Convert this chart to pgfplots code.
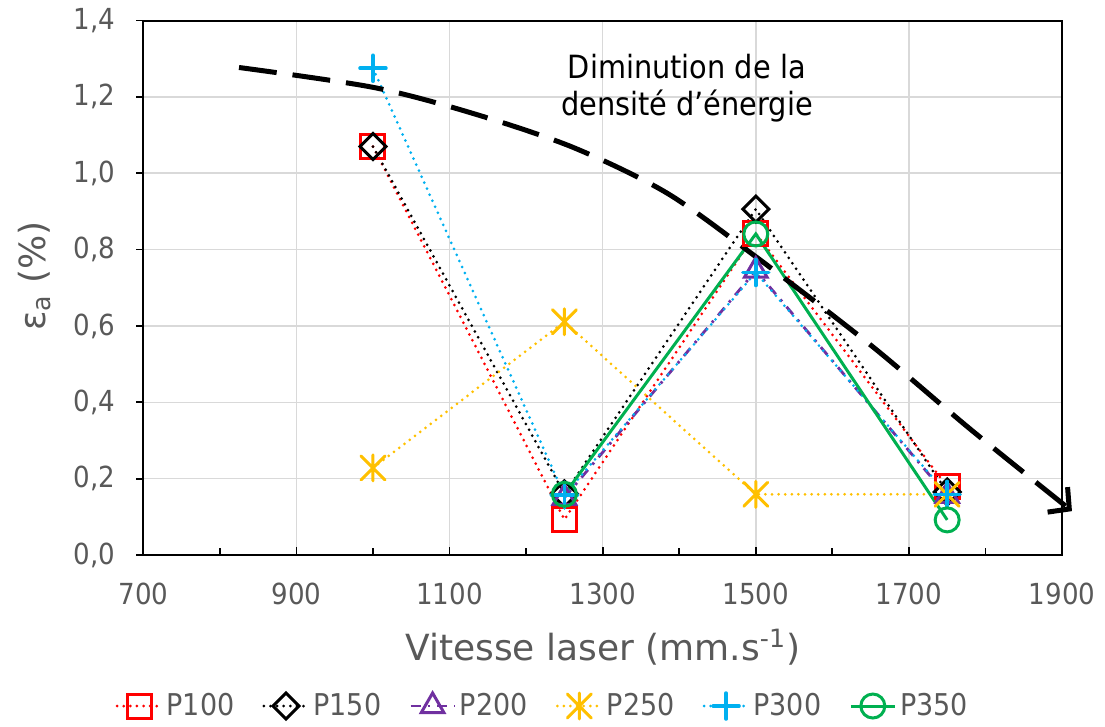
\documentclass[border=0pt]{standalone}
\usepackage{fontspec}
\setmainfont{DejaVu Sans Condensed}
\newfontfamily\widefont{DejaVu Sans}
\usepackage{pgfplots}
\pgfplotsset{compat=1.18}
\usetikzlibrary{arrows.meta}
\definecolor{txtgray}{HTML}{595959}
\definecolor{gridgray}{HTML}{D9D9D9}
\definecolor{cRed}{HTML}{FF0000}
\definecolor{cPurple}{HTML}{7030A0}
\definecolor{cOrange}{HTML}{FFC000}
\definecolor{cCyan}{HTML}{00B0F0}
\definecolor{cGreen}{HTML}{00B050}
\pgfdeclareplotmark{xast}{%
  \pgfpathmoveto{\pgfqpoint{0pt}{\pgfplotmarksize}}%
  \pgfpathlineto{\pgfqpoint{0pt}{-\pgfplotmarksize}}%
  \pgfpathmoveto{\pgfqpoint{-0.92\pgfplotmarksize}{0.92\pgfplotmarksize}}%
  \pgfpathlineto{\pgfqpoint{0.92\pgfplotmarksize}{-0.92\pgfplotmarksize}}%
  \pgfpathmoveto{\pgfqpoint{-0.92\pgfplotmarksize}{-0.92\pgfplotmarksize}}%
  \pgfpathlineto{\pgfqpoint{0.92\pgfplotmarksize}{0.92\pgfplotmarksize}}%
  \pgfusepathqstroke}
\tikzset{dotline/.style={dash pattern=on 0pt off 3.3pt, line cap=round}}
\begin{document}
\begin{tikzpicture}
\begin{axis}[
  scale only axis, width=459.35pt, height=267.25pt,
  xmin=700, xmax=1900, ymin=0, ymax=1.4,
  clip=false,
  xtick={700,900,...,1900}, ytick={0,0.2,0.4,0.6,0.8,1.0,1.2,1.4},
  minor x tick num=1,
  tick align=inside, tick pos=left,
  major tick length=4pt, minor tick length=3.5pt,
  y tick style={xshift=-3.5pt},
  tick style={black, line width=0.9pt},
  grid=major,
  major grid style={gridgray, line width=0.75pt},
  axis line style={black, line width=1pt},
  /pgf/number format/assume math mode=true,
  ticklabel style={font=\fontsize{14.5}{16}\selectfont, text=txtgray},
  x tick label style={/pgf/number format/1000 sep={}, yshift=-10.5pt},
  y tick label style={/pgf/number format/fixed, /pgf/number format/fixed zerofill, /pgf/number format/precision=1, /pgf/number format/use comma, xshift=-10.5pt},
  xlabel={Vitesse laser (mm.s\textsuperscript{-1})},
  ylabel={ε\textsubscript{a} (\%)},
  xlabel style={at={(axis description cs:0.5,-0.197)}, anchor=base, font=\widefont\fontsize{18}{20}\selectfont, text=txtgray},
  ylabel style={at={(axis description cs:-0.118,0.522)}, anchor=center, rotate=0, font=\widefont\fontsize{18}{20}\selectfont, text=txtgray},
  legend columns=6,
  legend style={at={(0.436,-0.2825)}, anchor=center, draw=none, fill=none, font=\fontsize{15}{17}\selectfont, text=txtgray, /tikz/every even column/.append style={column sep=12pt}},
  legend image code/.code={\draw[mark repeat=2,mark phase=2] plot coordinates {(0pt,0pt) (11pt,0pt) (22pt,0pt)};},
]
\addplot[cRed, line width=1.5pt, dotline, mark=square, mark size=6pt, mark options={solid, line width=1.5pt}]
  coordinates {(1000,1.070) (1250,0.093) (1500,0.843) (1750,0.179)};
\addlegendentry{P100}
\addplot[black, line width=1.5pt, dotline, mark=square, mark size=4.6pt, mark options={solid, rotate=45, line width=1.5pt}]
  coordinates {(1000,1.070) (1250,0.160) (1500,0.906) (1750,0.165)};
\addlegendentry{P150}
\addplot[cPurple, line width=1.4pt, dash pattern=on 5pt off 3.5pt on 1.25pt off 3.5pt, mark=triangle, mark size=6.5pt, mark options={solid, line width=1.5pt}]
  coordinates {(1250,0.150) (1500,0.745) (1750,0.155)};
\addlegendentry{P200}
\addplot[cOrange, line width=1.5pt, dotline, mark=xast, mark size=6.5pt, mark options={solid, line width=1.5pt}]
  coordinates {(1000,0.228) (1250,0.611) (1500,0.159) (1750,0.159)};
\addlegendentry{P250}
\addplot[cCyan, line width=1.5pt, dotline, mark=+, mark size=6.5pt, mark options={solid, line width=1.75pt}]
  coordinates {(1000,1.275) (1250,0.157) (1500,0.740) (1750,0.159)};
\addlegendentry{P300}
\addplot[cGreen, line width=1.5pt, mark=o, mark size=6pt, mark options={solid, line width=1.5pt}]
  coordinates {(1250,0.159) (1500,0.841) (1750,0.092)};
\addlegendentry{P350}
\addplot[black, line width=2.5pt, dash pattern=on 19pt off 8pt, smooth, forget plot, -{Straight Barb[length=7.5pt, width=16pt]}]
  coordinates {(825,1.277) (1000,1.225) (1130,1.157) (1261,1.068) (1384,0.948) (1501,0.780) (1650,0.550) (1780,0.330) (1913,0.115)};
\node[align=center, font=\fontsize{16}{18.5}\selectfont, text=black] at (axis cs:1410,1.223) {Diminution de la\\densité d’énergie};
\path (rel axis cs:-0.156,-0.3162) rectangle (rel axis cs:1.0468,1.0384);
\end{axis}
\end{tikzpicture}
\end{document}
